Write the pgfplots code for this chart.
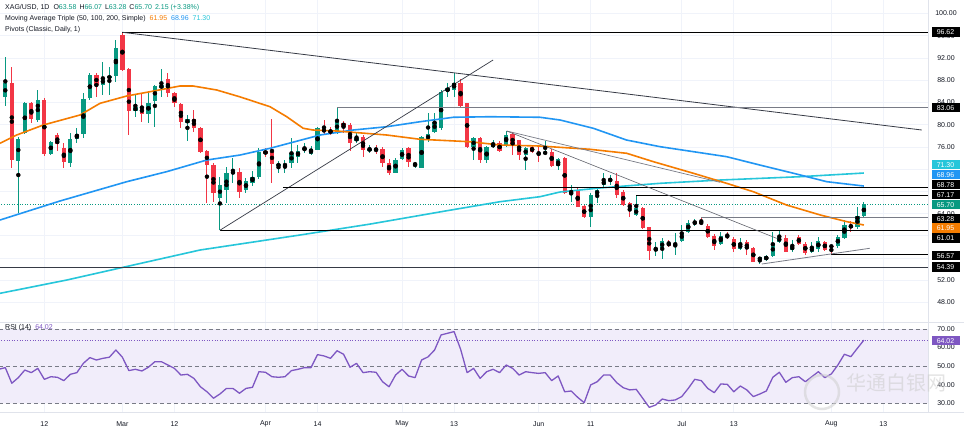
\documentclass[border=0pt]{standalone}
\usepackage{pgfplots}
\pgfplotsset{compat=1.18}
\usepackage{pgfplotstable}
\usepackage{fontspec}
\setmainfont{Liberation Sans}
\newfontfamily\cjk{Noto Sans CJK SC}
\definecolor{cgreen}{HTML}{089981}
\definecolor{cred}{HTML}{F23645}
\definecolor{maorange}{HTML}{F57C00}
\definecolor{mablue}{HTML}{2196F3}
\definecolor{macyan}{HTML}{26C6DA}
\definecolor{rsipurple}{HTML}{7E57C2}
\definecolor{rsiband}{HTML}{F1EDFA}
\definecolor{gridc}{HTML}{F0F3FA}
\definecolor{sepc}{HTML}{E0E3EB}
\definecolor{txt}{HTML}{131722}
\definecolor{lvlgrey}{HTML}{787B86}
\definecolor{lvldark}{HTML}{363A45}

\pgfplotstableread{
n o h l c
0 84.92 92.23 83.36 87.44
2 73.52 77.83 64.05 77.37
3 78.55 84.13 78.32 83.95
5 80.84 86.24 80.53 84.44
7 74.72 77.12 74.54 76.94
10 73.16 78.45 72.44 77.37
11 77.37 79.35 76.65 78.32
12 78.32 85.75 77.55 84.56
13 84.74 89.24 84.44 88.94
15 87.14 91.33 85.34 88.34
16 88.34 90.43 85.34 88.76
17 88.76 95.23 87.73 93.74
20 82.51 85.34 81.43 83.12
22 81.92 85.64 80.25 83.95
23 84.31 87.14 79.63 86.96
24 86.54 89.96 84.92 87.14
28 80.25 81.74 77.12 80.96
33 66.75 70.64 61.01 69.14
34 68.24 72.44 65.85 71.25
35 71.25 73.95 69.45 71.50
37 68.24 70.35 67.65 69.92
38 69.50 71.60 68.90 70.60
39 70.60 75.74 70.30 75.14
42 72.60 73.45 71.25 72.90
43 72.56 73.64 71.25 72.92
44 73.05 77.55 72.15 74.85
45 74.24 76.34 73.05 75.32
46 75.44 76.64 74.85 75.74
47 74.72 76.16 74.54 75.56
48 75.44 79.63 75.40 79.35
51 78.45 83.06 78.32 80.84
54 77.06 78.73 76.64 77.66
56 75.40 76.34 74.85 75.60
60 71.36 73.95 71.25 73.64
61 73.77 75.74 73.64 75.44
63 72.80 73.34 72.15 73.00
64 72.15 77.96 72.15 77.73
65 77.24 82.04 76.94 78.32
66 78.73 82.15 78.55 80.53
67 79.35 86.24 79.00 85.93
68 86.11 87.55 84.92 86.54
69 86.24 89.35 85.03 87.55
72 75.92 77.73 73.64 77.55
74 73.64 76.16 73.16 75.92
75 75.92 77.24 75.74 76.64
77 76.34 78.91 75.92 78.14
80 74.54 75.92 71.84 75.74
83 74.72 77.12 74.54 75.14
85 72.56 73.95 71.84 73.82
87 67.65 69.14 66.14 68.12
90 63.45 67.65 61.64 67.35
91 67.40 68.54 65.85 68.24
92 69.14 71.25 68.84 69.92
93 70.00 70.94 69.14 70.15
97 63.75 67.17 63.57 64.95
100 57.32 58.94 56.37 57.74
101 57.74 59.56 55.78 59.08
103 58.20 60.45 56.55 58.35
104 59.13 61.95 58.94 60.56
105 60.74 62.84 60.45 62.36
106 62.13 63.03 61.80 62.54
110 58.53 60.68 58.29 59.97
113 57.56 59.56 57.44 58.65
116 55.65 56.24 54.93 56.13
117 55.65 56.55 55.47 56.37
118 56.37 60.74 56.24 58.77
119 58.94 61.04 58.70 59.74
121 57.44 59.25 57.14 58.17
124 57.14 58.89 56.85 57.92
125 57.56 59.74 57.09 59.08
128 58.17 60.20 57.90 59.86
129 59.56 62.84 59.43 61.95
131 61.60 65.24 61.17 63.50
132 63.58 66.07 63.28 65.70
}\upcandles

\pgfplotstableread{
n o h l c
1 87.44 90.43 72.15 73.64
4 83.95 84.13 80.25 80.96
6 84.44 84.74 74.36 74.72
8 78.14 78.45 75.32 76.52
9 75.85 76.64 72.15 73.34
14 88.94 89.24 85.03 87.14
18 96.13 96.62 89.60 89.84
19 89.96 90.14 78.14 82.51
21 83.12 85.64 80.53 81.92
25 88.16 89.35 84.92 85.64
26 85.64 85.87 83.12 83.84
27 83.72 83.84 79.35 80.53
29 80.96 82.64 78.73 79.35
30 79.35 79.63 74.96 75.14
31 75.32 75.44 65.85 72.74
32 72.74 73.05 66.14 67.65
36 71.43 72.15 66.75 67.94
40 75.32 75.80 74.17 74.71
41 75.14 80.96 69.56 72.92
49 79.17 80.84 78.14 78.73
50 79.04 79.50 78.10 78.45
52 80.36 80.72 78.55 79.63
53 79.94 80.25 75.32 76.64
55 77.83 78.14 74.24 75.44
57 75.60 76.30 74.80 75.30
58 75.56 75.92 72.44 73.05
59 73.05 73.82 70.94 71.25
62 75.74 75.92 72.33 73.34
70 87.55 88.16 83.23 83.41
71 83.84 83.95 75.74 75.92
73 77.55 77.73 73.05 73.64
76 76.64 77.00 75.00 75.32
78 78.32 78.73 74.54 76.16
79 77.24 77.30 73.64 74.54
81 75.92 76.20 74.90 75.14
82 74.95 76.16 73.34 74.75
84 75.14 75.56 72.44 72.56
86 73.95 74.20 67.60 67.76
88 68.12 68.55 65.13 65.24
89 65.36 65.60 63.15 63.33
94 69.92 71.25 66.75 67.35
95 67.94 68.24 65.36 65.54
96 65.85 66.14 63.33 64.77
98 64.95 65.13 61.17 61.35
99 61.53 61.64 55.65 57.32
102 58.80 59.25 58.05 58.17
107 62.54 63.28 61.95 62.13
108 61.77 62.13 59.61 59.85
109 59.97 60.33 57.44 58.17
111 59.97 60.68 59.43 59.85
112 59.37 59.80 57.10 57.56
114 58.94 59.25 56.55 57.56
115 57.74 57.99 55.23 55.35
120 59.67 60.15 57.04 57.14
122 59.74 60.15 58.29 58.53
123 58.53 58.94 56.55 57.00
126 58.94 59.10 57.30 57.44
127 58.20 58.35 56.57 58.05
130 61.95 62.73 60.74 61.45
}\downcandles

\pgfplotstableread{
n r
-1 48.3
0 49.2
1 40.8
2 43.8
3 47.9
4 46.5
5 48.8
6 42.9
7 44.3
8 44.0
9 42.2
10 45.6
11 46.5
12 51.5
13 54.6
14 53.3
15 54.2
16 54.8
17 58.7
18 54.8
19 47.6
20 48.3
21 47.4
22 49.4
23 52.4
24 52.4
25 50.6
26 48.8
27 45.2
28 45.6
29 43.4
30 38.9
31 36.2
32 32.7
33 35.0
34 38.0
35 38.0
36 35.4
37 38.0
38 38.6
39 47.0
40 46.7
41 44.3
42 44.0
43 44.3
44 47.6
45 48.3
46 49.2
47 49.2
48 56.2
49 55.5
50 54.2
51 58.3
52 56.4
53 49.4
54 51.5
55 46.5
56 47.0
57 46.7
58 41.6
59 38.9
60 45.2
61 48.3
62 44.7
63 43.8
64 53.3
65 55.0
66 58.7
67 66.8
68 67.7
69 68.6
70 59.1
71 46.5
72 48.8
73 43.4
74 47.0
75 48.3
76 46.5
77 50.6
78 48.8
79 45.2
80 47.0
81 46.5
82 46.1
83 46.5
84 42.2
85 44.7
86 36.2
87 36.6
88 33.2
89 30.3
90 39.9
91 41.6
92 45.2
93 45.2
94 41.1
95 38.4
96 37.2
97 37.5
98 32.7
99 27.8
100 29.1
101 32.3
102 31.4
103 31.8
104 33.6
105 38.0
106 42.9
107 42.2
108 38.0
109 35.7
110 40.4
111 40.2
112 36.2
113 39.3
114 37.2
115 33.6
116 35.0
117 36.6
118 44.0
119 46.7
120 41.3
121 43.8
122 44.3
123 41.6
124 44.3
125 47.0
126 43.8
127 45.8
128 50.6
129 56.4
130 55.1
131 59.6
132 64.02
}\rsidata

\newcommand{\fs}{\fontsize{7bp}{8bp}\selectfont}
\newcommand{\pbox}[3]{\node[fill=#2, text=white, font=\fs, minimum width=28bp, minimum height=9.6bp, inner sep=0pt, anchor=center] at (945.5bp,{(432-#1)*1bp}) {#3};}

\begin{document}
\begin{tikzpicture}
\path[use as bounding box, fill=white] (0bp,0bp) rectangle (964bp,432bp);

% ---------------- price pane ----------------
\begin{axis}[
  at={(0bp,110bp)}, anchor=south west,
  width=928bp, height=322bp, scale only axis,
  xmin=-0.815, xmax=141.86, ymin=44.50, ymax=102.43,
  axis line style={draw=none},
  major tick length=0pt,
  xtick={6,18,26,40,48,61,69,82,90,104,112,127,135},
  xticklabels={},
  xticklabel style={opacity=0},
  ytick={48,52,64,76,80,84,88,92,96,100},
  extra y ticks={56,60,68,72},
  extra y tick labels={},
  extra y tick style={yticklabel style={opacity=0}},
  yticklabel pos=right,
  xmajorgrids, ymajorgrids,
  grid style={draw=gridc, line width=0.8bp},
  yticklabel style={font=\fs, text=txt, anchor=center, xshift=18bp},
  /pgf/number format/.cd, fixed, fixed zerofill, precision=2, assume math mode=true,
]
% current price line
\addplot[cgreen, line width=0.8bp, dash pattern=on 1bp off 1.6bp, forget plot] coordinates {(-1,65.70) (142,65.70)};
% candles: wicks
\addplot[only marks, mark=none, forget plot, error bars/.cd, y dir=both, y explicit, error mark=none,
  error bar style={line width=1bp, draw=cgreen}]
  table[x=n, y expr=(\thisrow{h}+\thisrow{l})/2, y error expr=(\thisrow{h}-\thisrow{l})/2] {\upcandles};
\addplot[only marks, mark=none, forget plot, error bars/.cd, y dir=both, y explicit, error mark=none,
  error bar style={line width=1bp, draw=cred}]
  table[x=n, y expr=(\thisrow{h}+\thisrow{l})/2, y error expr=(\thisrow{h}-\thisrow{l})/2] {\downcandles};
% candles: bodies
\addplot[only marks, mark=none, forget plot, error bars/.cd, y dir=both, y explicit, error mark=none,
  error bar style={line width=4.3bp, draw=cgreen}]
  table[x=n, y expr=(\thisrow{o}+\thisrow{c})/2, y error expr={max(abs(\thisrow{c}-\thisrow{o})/2,0.08)}] {\upcandles};
\addplot[only marks, mark=none, forget plot, error bars/.cd, y dir=both, y explicit, error mark=none,
  error bar style={line width=4.3bp, draw=cred}]
  table[x=n, y expr=(\thisrow{o}+\thisrow{c})/2, y error expr={max(abs(\thisrow{c}-\thisrow{o})/2,0.08)}] {\downcandles};
% moving averages
\addplot[macyan, line width=1.6bp, line join=round] coordinates {
(-0.81,49.66) (9.44,52.05) (19.68,54.75) (29.94,57.45) (45.31,60.15) (56,62.1) (67.8,64.5)
(76.06,66.14) (82.2,67.04) (85.3,67.89) (91.4,68.61) (100.66,69.45) (109.9,70.04) (122.2,70.64) (132,71.30)};
\addplot[mablue, line width=1.6bp, line join=round] coordinates {
(-0.81,62.85) (8.41,66.27) (18.67,69.74) (24.8,71.54) (30.97,73.64) (36.09,74.54) (40.7,75.75)
(48.4,78.14) (53.5,79.04) (58.64,79.63) (63.76,80.53) (68.88,81.33) (74.5,81.43) (82.2,81.33)
(85.3,80.84) (90.4,79.35) (95.5,77.24) (100.66,76.04) (105.8,75.14) (110.9,74.24) (116.0,72.74)
(121.2,71.25) (126.3,69.74) (132,68.96)};
\addplot[maorange, line width=1.6bp, line join=round] coordinates {
(-0.81,76.65) (1.75,78.14) (5.84,79.94) (11.49,81.74) (14.56,83.84) (18.67,85.16) (22.25,85.93)
(26.86,86.96) (28.86,86.96) (32.5,86.24) (36.09,85.0) (40.7,83.23) (43.27,81.43) (45.8,79.35)
(47.3,79.04) (50.95,78.86) (58.64,78.14) (63.76,77.37) (71.45,76.93) (76.06,76.34) (82.2,76.16)
(89.9,75.57) (95.54,74.85) (99.64,73.34) (105.8,71.25) (110.9,69.45) (115.0,67.94) (120.1,65.55)
(125.3,63.75) (129.4,62.54) (132,61.95)};
% drawings: levels and trend lines
\addplot[black, line width=1bp] coordinates {(18,96.62) (142,96.62)};
\addplot[lvldark, line width=0.8bp] coordinates {(18,96.62) (140.9,79.04)};
\addplot[lvlgrey, line width=1bp] coordinates {(51,83.06) (142,83.06)};
\addplot[black, line width=1.1bp] coordinates {(33,61.01) (142,61.01)};
\addplot[lvldark, line width=0.7bp] coordinates {(33,61.01) (75,91.64)};
\addplot[black, line width=1bp] coordinates {(42.7,68.78) (142,68.78)};
\addplot[black, line width=1bp] coordinates {(97,67.17) (142,67.17)};
\addplot[lvlgrey, line width=1bp] coordinates {(107,63.28) (142,63.28)};
\addplot[black, line width=1bp] coordinates {(127,56.57) (142,56.57)};
\addplot[lvldark, line width=1bp] coordinates {(-1,54.39) (142,54.39)};
\addplot[lvlgrey, line width=0.7bp] coordinates {(77.1,78.86) (109.9,69.63)};
\addplot[lvlgrey!80!black, line width=0.6bp] coordinates {(77.1,78.86) (118.6,59.55)};
\addplot[lvlgrey, line width=0.8bp] coordinates {(116.3,54.93) (132.9,57.76)};
\end{axis}

% ---------------- RSI pane ----------------
\begin{axis}[
  at={(0bp,20bp)}, anchor=south west,
  width=928bp, height=90bp, scale only axis,
  xmin=-0.815, xmax=141.86, ymin=25.3, ymax=73.77,
  axis line style={draw=none},
  major tick length=0pt,
  xtick={6,18,26,40,48,61,69,82,90,104,112,127,135},
  xticklabels={12,Mar,12,Apr,14,May,13,Jun,11,Jul,13,Aug,13},
  xticklabel style={font=\fs, text=txt, anchor=center, yshift=-12bp},
  ytick={30,40,50,60,70},
  yticklabel pos=right,
  yticklabel style={font=\fs, text=txt, anchor=center, xshift=18bp},
  xmajorgrids,
  grid style={draw=gridc, line width=0.8bp},
  /pgf/number format/.cd, fixed, fixed zerofill, precision=2, assume math mode=true,
]
\addplot[draw=none, fill=rsiband, forget plot] coordinates {(-1,30) (142,30) (142,70) (-1,70) (-1,30)};
\addplot[lvlgrey, line width=0.7bp, dash pattern=on 4bp off 3bp] coordinates {(-1,70) (142,70)};
\addplot[lvlgrey, line width=0.7bp, dash pattern=on 4bp off 3bp] coordinates {(-1,50) (142,50)};
\addplot[lvlgrey, line width=0.7bp, dash pattern=on 4bp off 3bp] coordinates {(-1,30) (142,30)};
\addplot[rsipurple, line width=0.8bp, dash pattern=on 1bp off 1.6bp] coordinates {(-1,64.02) (142,64.02)};
\addplot[rsipurple, line width=1.3bp, line join=round] table[x=n, y=r] {\rsidata};
\end{axis}

% separators
\draw[sepc, line width=0.8bp] (0bp,110bp) -- (964bp,110bp);
\draw[sepc, line width=0.8bp] (0bp,20bp) -- (964bp,20bp);
\draw[sepc, line width=0.6bp] (928bp,20bp) -- (928bp,432bp);

% price scale boxes
\pbox{32.3}{black}{96.62}
\pbox{107.7}{black}{83.06}
\pbox{164.7}{macyan}{71.30}
\pbox{174.7}{mablue}{68.96}
\pbox{184.7}{black}{68.78}
\pbox{194.7}{black}{67.17}
\pbox{204.7}{cgreen}{65.70}
\pbox{218.7}{black}{63.28}
\pbox{228.3}{maorange}{61.95}
\pbox{238}{black}{61.01}
\pbox{255.7}{black}{56.57}
\pbox{267.3}{black}{54.39}
\pbox{340.7}{rsipurple}{64.02}

% legends
\node[anchor=west, inner sep=0pt, font=\fs, text=txt] at (5bp,424.5bp)
  {XAG/USD, 1D\hspace{4bp}O\textcolor{cgreen}{63.58}\hspace{3bp}H\textcolor{cgreen}{66.07}\hspace{3bp}L\textcolor{cgreen}{63.28}\hspace{3bp}C\textcolor{cgreen}{65.70}\hspace{3bp}\textcolor{cgreen}{2.15 (+3.38\%)}};
\node[anchor=west, inner sep=0pt, font=\fs, text=txt] at (5bp,413bp)
  {Moving Average Triple (50, 100, 200, Simple)\hspace{4bp}\textcolor{maorange}{61.95}\hspace{4bp}\textcolor{mablue}{68.96}\hspace{4bp}\textcolor{macyan}{71.30}};
\node[anchor=west, inner sep=0pt, font=\fs, text=txt] at (5bp,402.5bp) {Pivots (Classic, Daily, 1)};
\node[anchor=west, inner sep=0pt, font=\fs, text=txt] at (5bp,104.5bp)
  {RSI (14)\hspace{4bp}\textcolor{rsipurple}{64.02}};

% watermark
\draw[gray!35, line width=2.5bp, opacity=0.6] (822bp,40bp) circle (17bp);
\node[anchor=west, inner sep=0pt, font=\cjk\fontsize{20bp}{22bp}\selectfont, text=gray!40, opacity=0.55] at (846bp,49bp) {华通白银网};
\end{tikzpicture}
\end{document}
